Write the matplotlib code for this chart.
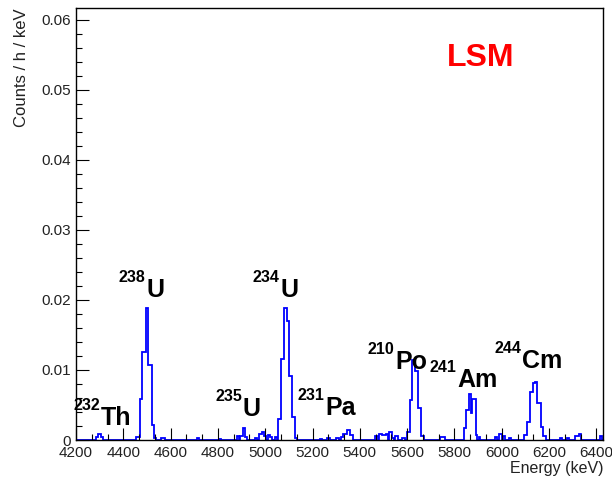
import numpy as np
import matplotlib
matplotlib.use("Agg")
import matplotlib.pyplot as plt
from matplotlib.ticker import MultipleLocator, AutoMinorLocator, FuncFormatter

plt.rcParams['font.family'] = ['Liberation Sans', 'DejaVu Sans']

# histogram content: (low edge keV, high edge keV, counts/h/keV)
seg_lo = [4285, 4295, 4305, 4455,
          4470, 4480, 4495, 4505, 4520, 4530,
          4560, 4710, 4805, 4880,
          4895, 4905, 4915,
          4955, 4975, 4985, 4995, 5010, 5020, 5040,
          5055, 5065, 5080, 5090, 5100, 5115, 5125,
          5230, 5260, 5300,
          5320, 5330, 5345, 5360,
          5465, 5480, 5495, 5510, 5525, 5535, 5550, 5580,
          5600, 5610, 5620, 5635, 5645, 5660,
          5740,
          5840, 5850, 5860, 5870, 5875, 5890, 5905,
          5970, 5990, 6005, 6030,
          6095, 6105, 6120, 6130, 6140, 6150, 6165, 6175,
          6245, 6275, 6310, 6325, 6415]
seg_hi = [4295, 4305, 4315, 4470,
          4480, 4495, 4505, 4520, 4530, 4540,
          4575, 4720, 4815, 4890,
          4905, 4915, 4925,
          4965, 4985, 4995, 5005, 5020, 5030, 5050,
          5065, 5080, 5090, 5100, 5115, 5125, 5135,
          5240, 5275, 5310,
          5330, 5345, 5360, 5370,
          5475, 5495, 5510, 5520, 5535, 5545, 5560, 5590,
          5610, 5620, 5635, 5645, 5660, 5670,
          5760,
          5850, 5860, 5870, 5875, 5890, 5895, 5910,
          5980, 6000, 6015, 6040,
          6105, 6120, 6130, 6140, 6150, 6165, 6175, 6185,
          6255, 6285, 6325, 6335, 6425]
seg_val = [0.0004, 0.0008, 0.0004, 0.0004,
           0.0058, 0.0125, 0.0189, 0.0107, 0.0022, 0.0003,
           0.0003, 0.0003, 0.0002, 0.0005,
           0.0005, 0.0017, 0.0004,
           0.0003, 0.0008, 0.0012, 0.0005, 0.0007, 0.0004, 0.0004,
           0.0030, 0.0116, 0.0188, 0.0170, 0.0091, 0.0033, 0.0003,
           0.0002, 0.0003, 0.0003,
           0.0004, 0.0008, 0.0014, 0.0007,
           0.0005, 0.0009, 0.0007, 0.0008, 0.0012, 0.0003, 0.0005, 0.0003,
           0.0012, 0.0057, 0.0114, 0.0099, 0.0045, 0.0006,
           0.0004,
           0.0017, 0.0043, 0.0065, 0.0038, 0.0058, 0.0007, 0.0004,
           0.0004, 0.0008, 0.0005, 0.0003,
           0.0007, 0.0026, 0.0069, 0.0081, 0.0083, 0.0053, 0.0019, 0.0005,
           0.0003, 0.0003, 0.0005, 0.0008, 0.0006]

# peak labels: mass number, element, position of the element symbol (left, baseline)
iso_mass = ['232', '238', '235', '234', '231', '210', '241', '244']
iso_name = ['Th', 'U', 'U', 'U', 'Pa', 'Po', 'Am', 'Cm']
iso_x = [4306, 4496, 4906, 5063, 5253, 5549, 5811, 6086]
iso_y = [0.00216, 0.0204, 0.00345, 0.0204, 0.0036, 0.0101, 0.0075, 0.0103]

bin_w = 5
edges = np.arange(4200, 6430 + bin_w, bin_w)
counts = np.zeros(len(edges) - 1)
for lo, hi, v in zip(seg_lo, seg_hi, seg_val):
    counts[(edges[:-1] >= lo) & (edges[:-1] < hi)] = v

fig = plt.figure(figsize=(6.12, 4.79), dpi=100)
ax = fig.add_axes([76/612, 39/479, 527/612, 432/479])

ax.stairs(counts, edges, color='#0000ff', linewidth=1.3)

ax.set_xlim(4200, 6428)
ax.set_ylim(0, 0.0617)

ax.xaxis.set_major_locator(MultipleLocator(200))
ax.xaxis.set_minor_locator(AutoMinorLocator(3))
ax.yaxis.set_major_locator(MultipleLocator(0.01))
ax.yaxis.set_minor_locator(AutoMinorLocator(5))
ax.yaxis.set_major_formatter(FuncFormatter(lambda v, p: '0' if abs(v) < 1e-9 else f'{v:.2f}'))
ax.tick_params(which='both', direction='in', top=False, right=False,
               labelsize=11, labelcolor='#222222', width=0.8)
ax.tick_params(which='major', length=9)
ax.tick_params(which='minor', length=4.5)
ax.tick_params(axis='x', pad=4)
for s in ax.spines.values():
    s.set_linewidth(1.0)

ax.set_xlabel('Energy (keV)', fontsize=11.5, color='#222222', loc='right', labelpad=1)
ax.set_ylabel('Counts / h / keV', fontsize=12, color='#222222', loc='top', labelpad=9)

for m, n, x, y in zip(iso_mass, iso_name, iso_x, iso_y):
    ax.text(x, y, n, fontsize=18, fontweight='bold', ha='left', va='baseline')
    ax.annotate(m, (x, y), xytext=(-0.5, 11), textcoords='offset points',
                fontsize=11.5, fontweight='bold', ha='right', va='baseline')

ax.text(0.768, 0.884, 'LSM', transform=ax.transAxes, color='#ff0000',
        fontsize=23, fontweight='bold', ha='center', va='center')

fig.savefig('out.png', dpi=100)
